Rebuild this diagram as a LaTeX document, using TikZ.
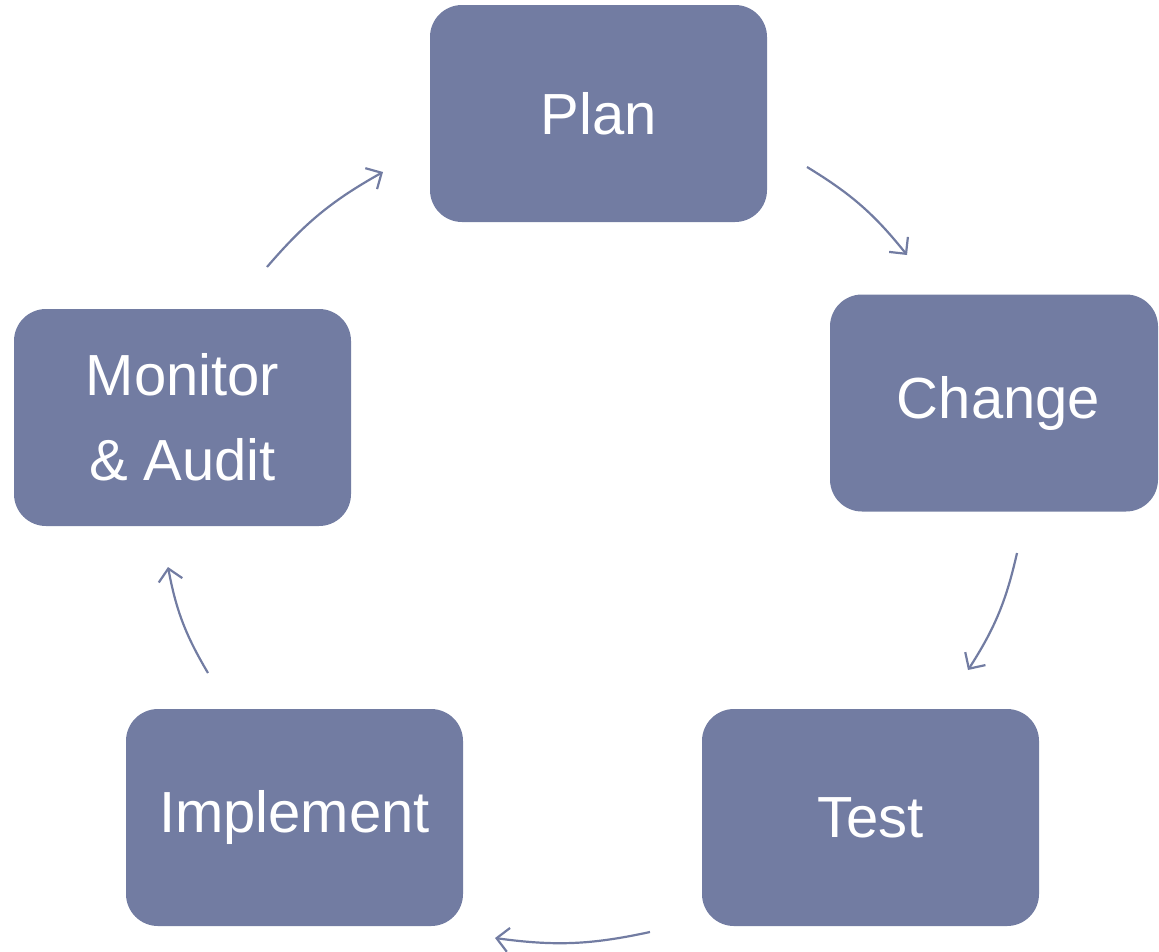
\documentclass[tikz,border=0pt]{standalone}
\usepackage{fontspec}
\setmainfont{Liberation Sans}
\usetikzlibrary{arrows.meta}
\definecolor{cyclefill}{RGB}{114,124,162}
\begin{document}
\begin{tikzpicture}[x=1pt,y=-1pt,
  stagebox/.style={rectangle, rounded corners=32pt, fill=cyclefill, draw=none,
    minimum width=337pt, minimum height=217pt, text=white, align=center,
    font=\fontsize{58}{85}\selectfont},
  cyclearrow/.style={draw=cyclefill, line width=2.2pt,
    -{Straight Barb[length=12pt,width=24pt,line width=2.2pt]}}]
  \useasboundingbox (0,0) rectangle (1159,951);

  % stages of the cycle
  \node[stagebox] (plan) at (598.5,113.5) {Plan};
  \node[stagebox, minimum width=328pt] (change) at (994,403) {\hspace*{9pt}Change};
  \node[stagebox] (test) at (870.5,817.5) {Test};
  \node[stagebox] (impl) at (294.5,817.5) {Implement};
  \node[stagebox] (monitor) at (182.5,417.5) {Monitor\\\& Audit};

  % end points of the curved arrows between stages
  \coordinate (a1s) at (807,167);  \coordinate (a1e) at (907,255);
  \coordinate (a2s) at (1017,553); \coordinate (a2e) at (968,670);
  \coordinate (a3s) at (650,932);  \coordinate (a3e) at (495,938);
  \coordinate (a4s) at (208,673);  \coordinate (a4e) at (168,567);
  \coordinate (a5s) at (267,267);  \coordinate (a5e) at (383,172);

  \draw[cyclearrow] (a1s) to[bend left=10] (a1e);
  \draw[cyclearrow] (a2s) to[bend left=10] (a2e);
  \draw[cyclearrow] (a3s) to[bend left=10] (a3e);
  \draw[cyclearrow] (a4s) to[bend left=10] (a4e);
  \draw[cyclearrow] (a5s) to[bend left=10] (a5e);
\end{tikzpicture}
\end{document}
